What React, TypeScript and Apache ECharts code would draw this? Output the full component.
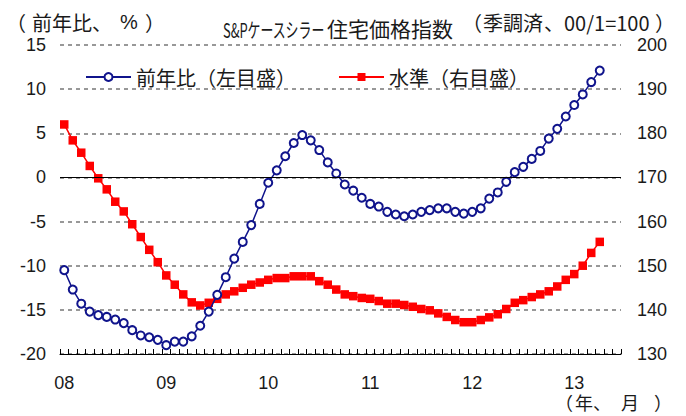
import React, { useEffect, useRef } from "react";
import * as echarts from "echarts";

const yearLabels = ["08", "09", "10", "11", "12", "13"];
const monthCount = 66; // Jan 2008 .. Jun 2013 axis slots

const yoyChange = [
  -10.5, -12.7, -14.3, -15.2, -15.6, -15.8, -16.1, -16.5, -17.3, -17.9, -18.1, -18.4,
  -19.0, -18.6, -18.6, -18.0, -16.8, -15.2, -13.3, -11.3, -9.2, -7.3, -5.4, -3.0,
  -0.6, 0.8, 2.4, 3.9, 4.8, 4.2, 3.1, 1.7, 0.45, -0.8, -1.5, -2.3,
  -3.0, -3.3, -3.9, -4.2, -4.4, -4.2, -3.9, -3.7, -3.5, -3.5, -3.9, -4.1,
  -3.9, -3.5, -2.4, -1.7, -0.5, 0.6, 1.2, 2.1, 3.0, 4.4, 5.5, 6.9,
  8.2, 9.4, 10.8, 12.1,
];

const indexLevel = [
  182.0, 178.4, 175.6, 172.6, 169.8, 167.3, 164.5, 162.3, 159.4, 156.5, 153.6, 150.8,
  147.8, 145.7, 143.5, 141.7, 141.0, 141.6, 142.5, 143.5, 144.2, 145.0, 145.7, 146.2,
  146.8, 147.2, 147.2, 147.6, 147.6, 147.6, 146.5, 145.7, 144.6, 143.5, 143.1, 142.7,
  142.5, 142.0, 141.4, 141.4, 141.1, 140.7, 140.2, 139.9, 139.2, 138.4, 137.7, 137.2,
  137.2, 137.7, 138.3, 139.0, 140.2, 141.6, 142.2, 142.9, 143.5, 144.2, 145.3, 146.8,
  148.1, 150.0, 152.9, 155.4,
];

const seriesNames = ["前年比（左目盛）", "水準（右目盛）"];

const categories: string[] = [];
yearLabels.forEach((y) => {
  for (let m = 1; m <= 12; m++) categories.push(y + "/" + m);
});
const axisCategories = categories.slice(0, monthCount);

const NUM_FONT = "'Liberation Sans', Arial, sans-serif";
const CJK_FONT = "'Noto Sans CJK JP', 'Liberation Sans', sans-serif";
const TEXT = "#1a1a1a";
const BLUE = "#10148c";
const RED = "#ff0000";

function txt(text: string, x: number, y: number, size: number, font: string, extra: any = {}) {
  return {
    type: "text",
    x,
    y,
    silent: true,
    ...extra,
    style: {
      text,
      fontFamily: font,
      fontSize: size,
      fill: TEXT,
      textVerticalAlign: "middle",
      ...(extra.style || {}),
    },
  };
}

export default function App() {
  const ref = useRef<HTMLDivElement>(null);
  useEffect(() => {
    if (!ref.current) return;
    const chart = echarts.init(ref.current, null, { renderer: "svg" });
    chart.setOption({
      animation: false,
      backgroundColor: "#ffffff",
      grid: { left: 60, right: 65, top: 45, bottom: 62 },
      legend: {
        data: seriesNames,
        left: 80,
        top: 62,
        itemWidth: 45,
        itemHeight: 10,
        itemGap: 42,
        textStyle: { fontFamily: CJK_FONT, fontSize: 20, color: TEXT },
      },
      xAxis: {
        type: "category",
        data: axisCategories,
        boundaryGap: true,
        axisLine: { onZero: false, lineStyle: { color: "#000", width: 1 } },
        axisTick: { show: true, inside: true, length: 5, interval: 0, lineStyle: { color: "#000" } },
        axisLabel: {
          interval: (i: number) => i % 12 === 0,
          formatter: (v: string) => v.split("/")[0],
          margin: 20,
          fontFamily: NUM_FONT,
          fontSize: 18,
          color: TEXT,
        },
        splitLine: { show: false },
      },
      yAxis: [
        {
          type: "value",
          min: -20,
          max: 15,
          interval: 5,
          axisLine: { show: false },
          axisTick: { show: false },
          axisLabel: { margin: 14, fontFamily: NUM_FONT, fontSize: 18, color: TEXT },
          splitLine: { show: true, lineStyle: { color: "#777", type: [4, 4], width: 1.5 } },
        },
        {
          type: "value",
          min: 130,
          max: 200,
          interval: 10,
          axisLine: { show: false },
          axisTick: { show: false },
          axisLabel: { margin: 16, fontFamily: NUM_FONT, fontSize: 18, color: TEXT },
          splitLine: { show: false },
        },
      ],
      series: [
        {
          name: seriesNames[1],
          type: "line",
          yAxisIndex: 1,
          data: indexLevel,
          symbol: "rect",
          symbolSize: 8.5,
          showSymbol: true,
          showAllSymbol: true,
          itemStyle: { color: RED },
          lineStyle: { color: RED, width: 1.5 },
          z: 3,
        },
        {
          name: seriesNames[0],
          type: "line",
          yAxisIndex: 0,
          data: yoyChange,
          symbol: "emptyCircle",
          symbolSize: 8,
          showSymbol: true,
          showAllSymbol: true,
          itemStyle: { color: BLUE, borderColor: BLUE, borderWidth: 1.5 },
          lineStyle: { color: BLUE, width: 1.5 },
          z: 4,
          markLine: {
            silent: true,
            symbol: "none",
            label: { show: false },
            lineStyle: { color: "#000", type: "solid", width: 1 },
            data: [{ yAxis: 0 }],
          },
        },
      ],
      graphic: [
        // left unit label
        txt("（", 6, 22, 20, CJK_FONT),
        txt("前年比、", 32, 22, 20, CJK_FONT),
        txt("%", 120, 22, 20, NUM_FONT),
        txt("）", 145, 22, 20, CJK_FONT),
        // title
        txt("S&Pケースシラー", 223, 29, 20, CJK_FONT, { scaleX: 0.645 }),
        txt("住宅価格指数", 327, 28, 21, CJK_FONT),
        txt("（", 462, 22, 20, CJK_FONT),
        txt("季調済", 483, 22, 20, CJK_FONT),
        txt("、00/1=100", 544, 22, 20, CJK_FONT),
        txt("）", 655, 22, 20, CJK_FONT),
        // x unit label
        txt("（", 555, 402, 18, CJK_FONT),
        txt("年、", 575, 402, 18, CJK_FONT),
        txt("月", 621, 402, 18, CJK_FONT),
        txt("）", 654, 402, 18, CJK_FONT),
      ],
    });
    return () => chart.dispose();
  }, []);
  return (
    <div
      ref={ref}
      style={{ position: "fixed", left: 0, top: 0, width: 686, height: 416, background: "#fff" }}
    />
  );
}
